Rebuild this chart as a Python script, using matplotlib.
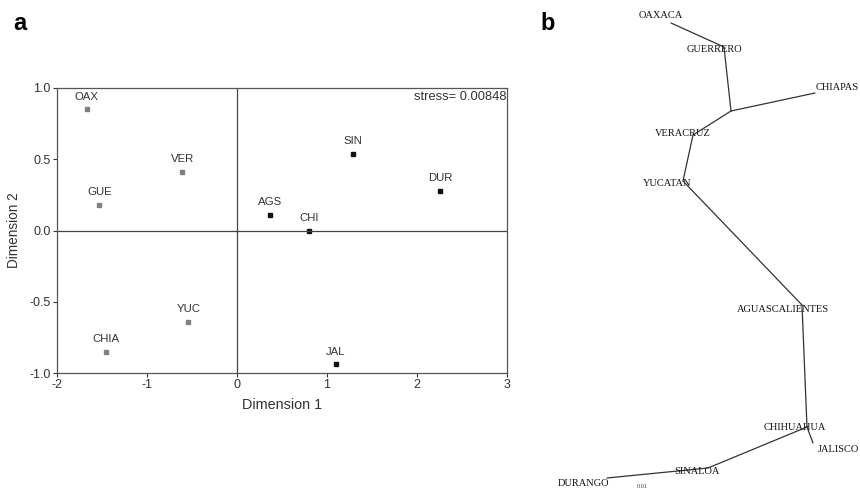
import matplotlib
matplotlib.use("Agg")
import matplotlib.pyplot as plt

plt.rcParams['axes.unicode_minus'] = False
plt.rcParams['font.family'] = ['Liberation Sans', 'DejaVu Sans']

# ---- Panel a data (MDS configuration) ----
codes = ["OAX", "GUE", "VER", "YUC", "CHIA", "AGS", "CHI", "SIN", "DUR", "JAL"]
dim1 = [-1.67, -1.53, -0.61, -0.54, -1.46, 0.37, 0.80, 1.29, 2.26, 1.10]
dim2 = [0.85, 0.18, 0.41, -0.64, -0.85, 0.11, 0.00, 0.54, 0.28, -0.94]
group = ["south", "south", "south", "south", "south", "north", "north", "north", "north", "north"]
xticks = [-2, -1, 0, 1, 2, 3]
yticks = [-1.0, -0.5, 0.0, 0.5, 1.0]
stress = 0.00848

# ---- Panel b data (tree layout, page units) ----
node_names = ["OAX", "N1", "N2", "CHIAPAS", "VER", "YUC", "AGS", "CHIH", "JAL", "SIN", "DUR"]
node_x = [671, 724, 731, 815, 693, 683, 802, 807, 813, 708, 607]
node_y = [23, 47, 111, 93, 135, 181, 305, 427, 443, 468, 478]
edges = [("OAX", "N1"), ("N1", "N2"), ("N2", "CHIAPAS"), ("N2", "VER"), ("VER", "YUC"),
         ("YUC", "AGS"), ("AGS", "CHIH"), ("CHIH", "JAL"), ("CHIH", "SIN"), ("SIN", "DUR")]
tree_labels = ["OAXACA", "GUERRERO", "CHIAPAS", "VERACRUZ", "YUCATAN", "AGUASCALIENTES",
               "CHIHUAHUA", "JALISCO", "SINALOA", "DURANGO"]
label_x = [661, 714, 816, 683, 667, 783, 795, 838, 697, 583]
label_y = [16, 50, 88, 134, 183, 309, 427, 450, 471, 484]
label_ha = ["center", "center", "left", "center", "center", "center", "center", "center", "center", "center"]

fig = plt.figure(figsize=(8.6, 4.88), dpi=100)

# ---------- Panel a ----------
ax = fig.add_axes([57/860, 1-373/488, 450/860, 285/488])
cols = {"south": "#808080", "north": "#111111"}
for c, x, y, g in zip(codes, dim1, dim2, group):
    ax.plot(x, y, marker="s", ms=3.2, color=cols[g], mec=cols[g], ls="none")
    ax.annotate(c, (x, y), xytext=(0, 5.5), textcoords="offset points",
                ha="center", va="bottom", fontsize=8.2, color="#333333")
ax.axhline(0, color="#444444", lw=0.9)
ax.axvline(0, color="#444444", lw=0.9)
ax.set_xlim(-2, 3)
ax.set_ylim(-1.0, 1.0)
ax.set_xticks(xticks)
ax.set_xticklabels([str(t) for t in xticks])
ax.set_yticks(yticks)
ax.set_yticklabels([f"{t:.1f}" for t in yticks])
ax.tick_params(labelsize=9, length=3, width=0.8, colors="#333333", pad=1.5)
for s in ax.spines.values():
    s.set_color("#555555")
    s.set_linewidth(0.9)
ax.set_xlabel("Dimension 1", fontsize=10.4, color="#333333", labelpad=5)
ax.set_ylabel("Dimension 2", fontsize=9.8, color="#333333", labelpad=6)
ax.text(0.999, 0.99, f"stress= {stress:.5f}", transform=ax.transAxes, ha="right",
        va="top", fontsize=9.3, color="#333333")

fig.text(20/860, 1-23/488, "a", fontsize=17, fontweight="bold", ha="center", va="center")
fig.text(548/860, 1-24/488, "b", fontsize=17, fontweight="bold", ha="center", va="center")

# ---------- Panel b ----------
bx = fig.add_axes([540/860, 0, 320/860, 1])
bx.set_xlim(540, 860)
bx.set_ylim(488, 0)
bx.axis("off")
idx = {n: i for i, n in enumerate(node_names)}
for a, b in edges:
    bx.plot([node_x[idx[a]], node_x[idx[b]]], [node_y[idx[a]], node_y[idx[b]]],
            color="#333333", lw=0.9, solid_capstyle="round")
for t, x, y, ha in zip(tree_labels, label_x, label_y, label_ha):
    bx.text(x, y, t, ha=ha, va="center", fontsize=7.5, family="Liberation Serif",
            color="#111111", clip_on=False)
bx.text(642, 486, "0.01", ha="center", va="center", fontsize=4.5, family="Liberation Serif",
        color="#333333")

fig.savefig("out.png", dpi=100)
